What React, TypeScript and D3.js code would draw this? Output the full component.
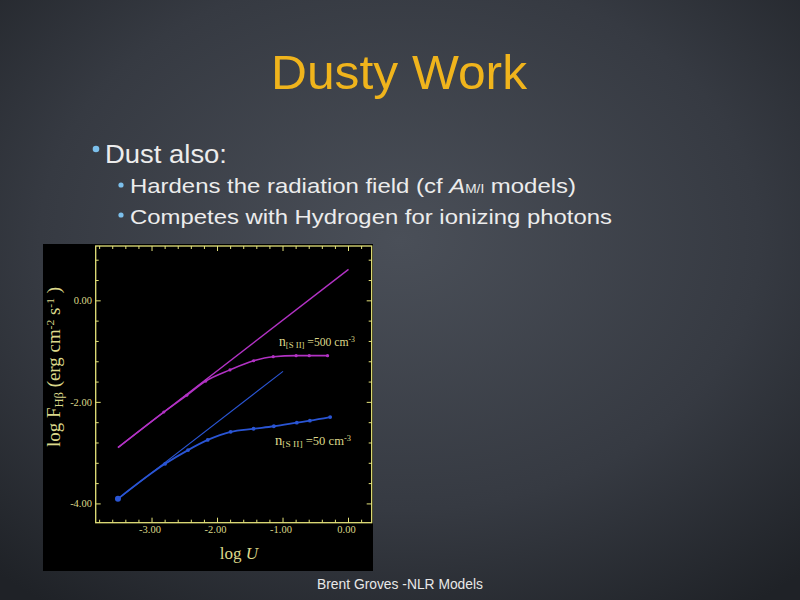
import React from "react";
import * as d3 from "d3";

const xTickValues = [-3, -2, -1, 0];
const yTickValues = [0, -2, -4];

const magLineU = [-3.52, 0.0];
const magLineF = [-2.89, 0.62];

const magCurveU = [-3.52, -2.82, -2.47, -2.18, -1.81, -1.45, -1.15, -0.8, -0.6, -0.32];
const magCurveF = [-2.89, -2.19, -1.86, -1.58, -1.36, -1.18, -1.1, -1.08, -1.08, -1.08];

const blueLineU = [-3.52, -1.0];
const blueLineF = [-3.9, -1.39];

const blueCurveU = [-3.52, -2.8, -2.45, -2.15, -1.8, -1.45, -1.14, -0.79, -0.59, -0.28];
const blueCurveF = [-3.9, -3.21, -2.94, -2.74, -2.58, -2.52, -2.47, -2.4, -2.36, -2.29];

const CHART_YELLOW = "#dcd88a";
const FRAME_YELLOW = "#e4e27a";
const MAGENTA = "#b232c4";
const BLUE = "#2a55d4";
const SANS = "Liberation Sans, Arial, Helvetica, sans-serif";
const SERIF = "Liberation Serif, Times New Roman, serif";

function zip(u: number[], f: number[]): [number, number][] {
  return u.map((v, i) => [v, f[i]]);
}

export default function App() {
  const x = d3.scaleLinear().domain([-3.86, 0.354]).range([95.7, 371.7]);
  const y = d3.scaleLinear().domain([-4.37, 1.08]).range([522.7, 246]);
  const line = d3
    .line<[number, number]>()
    .x((d) => x(d[0]))
    .y((d) => y(d[1]))
    .curve(d3.curveMonotoneX);

  const [x0, x1] = x.range();
  const [yb, yt] = y.range();

  const xMinor = d3.range(-3.8, 0.3, 0.2);
  const yMinor = d3.range(-4.0, 1.0, 0.4);

  const magPts = zip(magCurveU, magCurveF);
  const bluePts = zip(blueCurveU, blueCurveF);

  return (
    <svg
      width={800}
      height={600}
      style={{ position: "absolute", left: 0, top: 0 }}
      xmlns="http://www.w3.org/2000/svg"
    >
      <defs>
        <radialGradient id="bg" cx="50%" cy="40%" r="75%">
          <stop offset="0%" stopColor="#4a4f58" />
          <stop offset="60%" stopColor="#363a42" />
          <stop offset="100%" stopColor="#1f2227" />
        </radialGradient>
      </defs>
      <rect x={0} y={0} width={800} height={600} fill="url(#bg)" />

      {/* Title */}
      <text
        x={271}
        y={89}
        fontFamily={SANS}
        fontSize={48}
        fill="#f0b41c"
        textLength={256}
        lengthAdjust="spacingAndGlyphs"
      >
        Dusty Work
      </text>

      {/* Bullets */}
      <g fontFamily={SANS} fill="#ececec">
        <circle cx={96} cy={149} r={3.3} fill="#7cc0ec" />
        <text x={105} y={163} fontSize={25} textLength={122} lengthAdjust="spacingAndGlyphs">
          Dust also:
        </text>
        <circle cx={121} cy={185} r={2.6} fill="#7cc0ec" />
        <text x={130} y={193} fontSize={21} textLength={446} lengthAdjust="spacingAndGlyphs">
          Hardens the radiation field (cf{" "}
          <tspan fontStyle="italic">A</tspan>
          <tspan fontSize={12}>M/I</tspan>
          <tspan> models)</tspan>
        </text>
        <circle cx={121} cy={215} r={2.6} fill="#7cc0ec" />
        <text x={130} y={224} fontSize={21} textLength={482} lengthAdjust="spacingAndGlyphs">
          Competes with Hydrogen for ionizing photons
        </text>
      </g>

      {/* Footer */}
      <text
        x={317}
        y={589}
        fontFamily={SANS}
        fontSize={14}
        fill="#e8e8e8"
        textLength={166}
        lengthAdjust="spacingAndGlyphs"
      >
        Brent Groves -NLR Models
      </text>

      {/* Chart image background */}
      <rect x={43} y={244} width={330} height={327} fill="#000" />

      {/* Frame */}
      <rect
        x={x0}
        y={yt}
        width={x1 - x0}
        height={yb - yt}
        fill="none"
        stroke={FRAME_YELLOW}
        strokeWidth={1.3}
      />

      {/* X ticks bottom & top */}
      {xMinor.map((v, i) => {
        const major = xTickValues.some((t) => Math.abs(t - v) < 1e-6);
        const len = major ? 5 : 3;
        return (
          <g key={"xt" + i} stroke={FRAME_YELLOW} strokeWidth={1}>
            <line x1={x(v)} x2={x(v)} y1={yb} y2={yb - len} />
            <line x1={x(v)} x2={x(v)} y1={yt} y2={yt + len} />
          </g>
        );
      })}
      {/* Y ticks left & right */}
      {yMinor.map((v, i) => {
        const major = yTickValues.some((t) => Math.abs(t - v) < 1e-6);
        const len = major ? 5 : 3;
        return (
          <g key={"yt" + i} stroke={FRAME_YELLOW} strokeWidth={1}>
            <line x1={x0} x2={x0 + len} y1={y(v)} y2={y(v)} />
            <line x1={x1} x2={x1 - len} y1={y(v)} y2={y(v)} />
          </g>
        );
      })}

      {/* Tick labels */}
      <g fontFamily={SERIF} fontSize={10.5} fill={CHART_YELLOW}>
        {xTickValues.map((v) => (
          <text key={"xl" + v} x={x(v) - 2} y={533} textAnchor="middle">
            {v.toFixed(2)}
          </text>
        ))}
        {yTickValues.map((v) => (
          <text key={"yl" + v} x={92} y={y(v) + 3.5} textAnchor="end">
            {v.toFixed(2)}
          </text>
        ))}
      </g>

      {/* Axis titles */}
      <text
        x={239}
        y={559}
        textAnchor="middle"
        fontFamily={SERIF}
        fontSize={17}
        fill={CHART_YELLOW}
      >
        log <tspan fontStyle="italic">U</tspan>
      </text>
      <text
        transform="translate(60,367) rotate(-90)"
        textAnchor="middle"
        fontFamily={SERIF}
        fontSize={18}
        fill={CHART_YELLOW}
        textLength={160}
        lengthAdjust="spacingAndGlyphs"
      >
        log F<tspan fontSize={12} dy={3}>Hβ</tspan>
        <tspan dy={-3}>{"  (erg cm"}</tspan>
        <tspan fontSize={11} dy={-6}>-2</tspan>
        <tspan dy={6}>{" s"}</tspan>
        <tspan fontSize={11} dy={-6}>-1</tspan>
        <tspan dy={6}>{" )"}</tspan>
      </text>

      {/* Lines */}
      <path d={line(zip(magLineU, magLineF)) || ""} fill="none" stroke={MAGENTA} strokeWidth={1.4} />
      <path d={line(magPts) || ""} fill="none" stroke={MAGENTA} strokeWidth={1.6} />
      {magPts.slice(1).map((p, i) => (
        <circle key={"mp" + i} cx={x(p[0])} cy={y(p[1])} r={1.6} fill={MAGENTA} />
      ))}

      <path d={line(zip(blueLineU, blueLineF)) || ""} fill="none" stroke={BLUE} strokeWidth={1.1} />
      <path d={line(bluePts) || ""} fill="none" stroke={BLUE} strokeWidth={1.8} />
      {bluePts.map((p, i) => (
        <circle key={"bp" + i} cx={x(p[0])} cy={y(p[1])} r={i === 0 ? 3 : 1.9} fill={BLUE} />
      ))}

      {/* Curve labels */}
      <g fontFamily={SERIF} fill={CHART_YELLOW}>
        <text x={279} y={346} fontSize={14} textLength={76} lengthAdjust="spacingAndGlyphs">
          n<tspan fontSize={9} dy={2}>[S II]</tspan>
          <tspan fontSize={12} dy={-2}>{" =500 cm"}</tspan>
          <tspan fontSize={8} dy={-4}>-3</tspan>
        </text>
        <text x={275} y={445} fontSize={14} textLength={76} lengthAdjust="spacingAndGlyphs">
          n<tspan fontSize={9} dy={2}>[S II]</tspan>
          <tspan fontSize={12} dy={-2}>{" =50 cm"}</tspan>
          <tspan fontSize={8} dy={-4}>-3</tspan>
        </text>
      </g>
    </svg>
  );
}
